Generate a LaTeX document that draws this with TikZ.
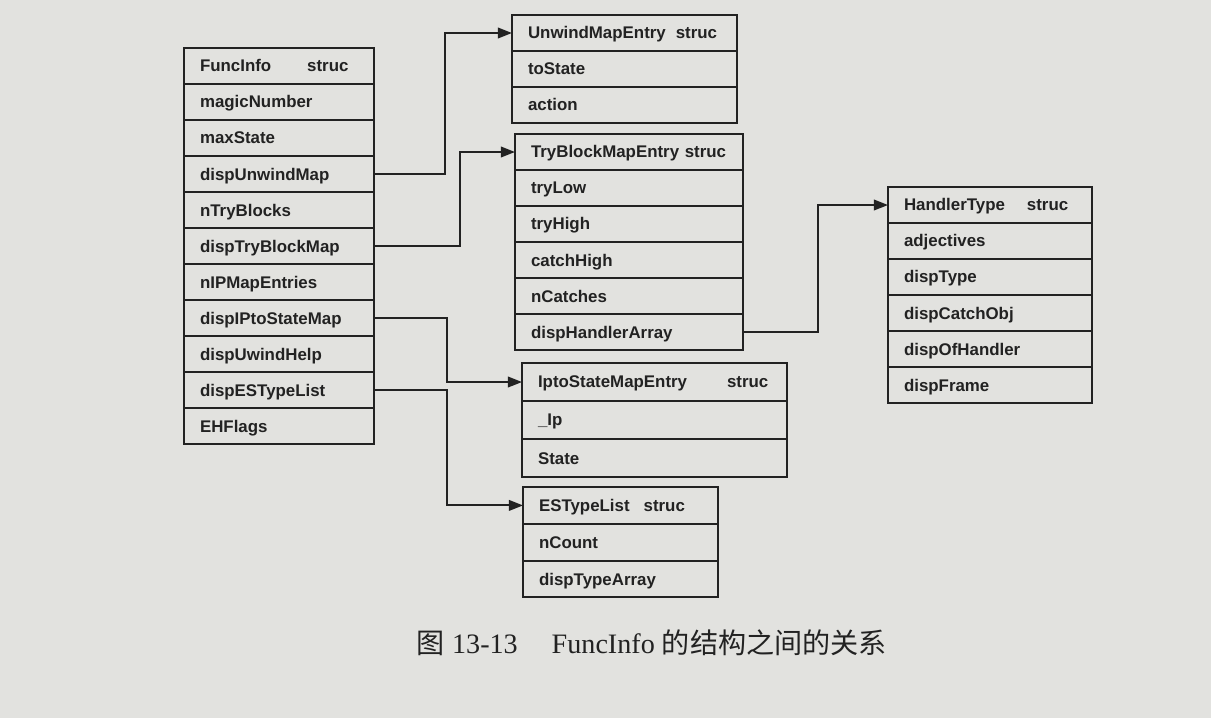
\documentclass[tikz,border=0pt]{standalone}
\usepackage{fontspec}
\setmainfont{Liberation Serif}
\setsansfont{Liberation Sans}
\newfontfamily\cjk{Noto Sans CJK SC}
\usetikzlibrary{arrows.meta, positioning}
\definecolor{paper}{RGB}{226,226,223}
\definecolor{ink}{RGB}{34,34,34}

\begin{document}
\begin{tikzpicture}[
    x=0.025cm, y=-0.025cm,
    every node/.style={font=\sffamily\bfseries\fontsize{12}{14}\selectfont, text=ink},
    field/.style={draw=ink, rectangle, line width=1.4pt, outer sep=0pt, inner xsep=0.4cm, minimum height=0.9cm, text width=#1, align=left, text height=2ex, text depth=0.15ex},
    arrow/.style={-{Triangle[length=10pt, width=7.5pt]}, line width=1.4pt, draw=ink}
]
\fill[paper] (0,0) rectangle (1211,718);
\useasboundingbox (0,0) rectangle (1211,718);

% FuncInfo struc
\node[field=3.95cm, anchor=north west] (fi0) at (184,48) {\mbox{FuncInfo\hspace{0.9cm}struc}};
\node[field=3.95cm, below=0pt of fi0] (fi1) {magicNumber};
\node[field=3.95cm, below=0pt of fi1] (fi2) {maxState};
\node[field=3.95cm, below=0pt of fi2] (fi3) {dispUnwindMap};
\node[field=3.95cm, below=0pt of fi3] (fi4) {nTryBlocks};
\node[field=3.95cm, below=0pt of fi4] (fi5) {dispTryBlockMap};
\node[field=3.95cm, below=0pt of fi5] (fi6) {nIPMapEntries};
\node[field=3.95cm, below=0pt of fi6] (fi7) {dispIPtoStateMap};
\node[field=3.95cm, below=0pt of fi7] (fi8) {dispUwindHelp};
\node[field=3.95cm, below=0pt of fi8] (fi9) {dispESTypeList};
\node[field=3.95cm, below=0pt of fi9] (fi10) {EHFlags};

% UnwindMapEntry
\node[field=4.825cm, anchor=north west] (uw0) at (512,15) {\mbox{UnwindMapEntry\hspace{0.25cm}struc}};
\node[field=4.825cm, below=0pt of uw0] (uw1) {toState};
\node[field=4.825cm, below=0pt of uw1] (uw2) {action};

% TryBlockMapEntry
\node[field=4.9cm, anchor=north west] (tb0) at (515,134) {\mbox{TryBlockMapEntry struc}};
\node[field=4.9cm, below=0pt of tb0] (tb1) {tryLow};
\node[field=4.9cm, below=0pt of tb1] (tb2) {tryHigh};
\node[field=4.9cm, below=0pt of tb2] (tb3) {catchHigh};
\node[field=4.9cm, below=0pt of tb3] (tb4) {nCatches};
\node[field=4.9cm, below=0pt of tb4] (tb5) {dispHandlerArray};

% IptoStateMapEntry
\node[field=5.825cm, minimum height=0.95cm, anchor=north west] (ip0) at (522,363) {\mbox{IptoStateMapEntry\hspace{1cm}struc}};
\node[field=5.825cm, minimum height=0.95cm, below=0pt of ip0] (ip1) {\_Ip};
\node[field=5.825cm, minimum height=0.95cm, below=0pt of ip1] (ip2) {State};

% ESTypeList
\node[field=4.075cm, minimum height=0.92cm, anchor=north west] (es0) at (523,487) {\mbox{ESTypeList\hspace{0.35cm}struc}};
\node[field=4.075cm, minimum height=0.92cm, below=0pt of es0] (es1) {nCount};
\node[field=4.075cm, minimum height=0.92cm, below=0pt of es1] (es2) {dispTypeArray};

% HandlerType
\node[field=4.3cm, anchor=north west] (ht0) at (888,187) {\mbox{HandlerType\hspace{0.55cm}struc}};
\node[field=4.3cm, below=0pt of ht0] (ht1) {adjectives};
\node[field=4.3cm, below=0pt of ht1] (ht2) {dispType};
\node[field=4.3cm, below=0pt of ht2] (ht3) {dispCatchObj};
\node[field=4.3cm, below=0pt of ht3] (ht4) {dispOfHandler};
\node[field=4.3cm, below=0pt of ht4] (ht5) {dispFrame};

% arrows
\draw[arrow] (fi3.east) -- ++(71,0) |- (uw0.west);
\draw[arrow] (fi5.east) -- ++(86,0) |- (tb0.west);
\draw[arrow] (fi7.east) -- ++(73,0) |- (ip0.west);
\draw[arrow] (fi9.east) -- ++(73,0) |- (es0.west);
\draw[arrow] (tb5.east) -- ++(75,0) |- (ht0.west);

% caption
\node[anchor=west, font=\rmfamily\mdseries\fontsize{20}{24}\selectfont] (caption) at (412,643)
    {{\cjk 图} 13-13\hspace{0.85cm}FuncInfo {\cjk 的结构之间的关系}};

\end{tikzpicture}
\end{document}
